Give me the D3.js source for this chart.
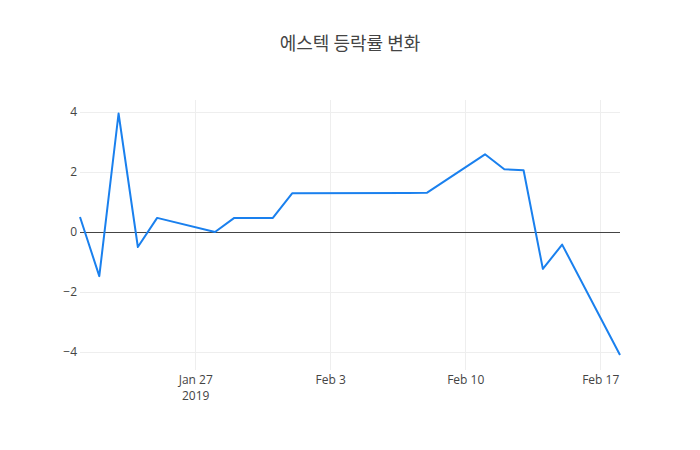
<!DOCTYPE html>
<html>
<head>
<meta charset="utf-8">
<script src="https://cdn.jsdelivr.net/npm/d3@7"></script>
<style>
  body { margin: 0; background: #fff; }
  text { font-family: "Open Sans", "Noto Sans CJK KR", sans-serif; }
</style>
</head>
<body>
<div id="chart"></div>
<script>
// trading days and daily change (%)
var dates = ["2019-01-21", "2019-01-22", "2019-01-23", "2019-01-24", "2019-01-25",
             "2019-01-28", "2019-01-29", "2019-01-30", "2019-01-31", "2019-02-01",
             "2019-02-07", "2019-02-08", "2019-02-11", "2019-02-12", "2019-02-13",
             "2019-02-14", "2019-02-15", "2019-02-18"];
var changes = [0.5, -1.47, 3.95, -0.5, 0.47,
               0.0, 0.47, 0.47, 0.47, 1.29,
               1.30, 1.31, 2.59, 2.09, 2.06,
               -1.23, -0.42, -4.1];
var y_ticks = [-4, -2, 0, 2, 4];
var x_ticks = ["2019-01-27", "2019-02-03", "2019-02-10", "2019-02-17"];
var year_label = "2019";
var title_text = "에스텍 등락률 변화";

var width = 700, height = 450;
var margin = { top: 100, right: 80, bottom: 80, left: 80 };

var parse = d3.timeParse("%Y-%m-%d");
var data = dates.map(function (d, i) { return { date: parse(d), value: changes[i] }; });

var svg = d3.select("#chart").append("svg")
  .attr("width", width)
  .attr("height", height);

var x = d3.scaleTime()
  .domain(d3.extent(data, function (d) { return d.date; }))
  .range([margin.left, width - margin.right]);

var y = d3.scaleLinear()
  .domain([-4.6, 4.4])
  .range([height - margin.bottom, margin.top]);

// grid
var grid = svg.append("g").attr("shape-rendering", "crispEdges");
grid.selectAll("line.h").data(y_ticks).enter().append("line")
  .attr("x1", margin.left).attr("x2", width - margin.right)
  .attr("y1", function (d) { return y(d); }).attr("y2", function (d) { return y(d); })
  .attr("stroke", "#eee").attr("stroke-width", 1);
grid.selectAll("line.v").data(x_ticks).enter().append("line")
  .attr("x1", function (d) { return x(parse(d)); }).attr("x2", function (d) { return x(parse(d)); })
  .attr("y1", margin.top).attr("y2", height - margin.bottom)
  .attr("stroke", "#eee").attr("stroke-width", 1);

// zero line
svg.append("line")
  .attr("shape-rendering", "crispEdges")
  .attr("x1", margin.left).attr("x2", width - margin.right)
  .attr("y1", y(0)).attr("y2", y(0))
  .attr("stroke", "#444").attr("stroke-width", 1);

// y labels
svg.append("g").selectAll("text").data(y_ticks).enter().append("text")
  .attr("x", margin.left - 3)
  .attr("y", function (d) { return y(d); })
  .attr("dy", "0.35em")
  .attr("text-anchor", "end")
  .attr("font-size", 12)
  .attr("fill", "#444")
  .text(function (d) { return d < 0 ? "\u2212" + Math.abs(d) : d; });

// x labels
var fmt = d3.timeFormat("%b %-d");
svg.append("g").selectAll("text").data(x_ticks).enter().append("text")
  .attr("x", function (d) { return x(parse(d)); })
  .attr("y", height - margin.bottom + 14)
  .attr("text-anchor", "middle")
  .attr("font-size", 12)
  .attr("fill", "#444")
  .text(function (d) { return fmt(parse(d)); });

svg.append("text")
  .attr("x", x(parse(x_ticks[0])))
  .attr("y", height - margin.bottom + 30)
  .attr("text-anchor", "middle")
  .attr("font-size", 12)
  .attr("fill", "#444")
  .text(year_label);

// line
var line = d3.line()
  .x(function (d) { return x(d.date); })
  .y(function (d) { return y(d.value); });

svg.append("path")
  .datum(data)
  .attr("d", line)
  .attr("fill", "none")
  .attr("stroke", "#1a80ee")
  .attr("stroke-width", 2)
  .attr("stroke-linejoin", "round");

// title
svg.append("text")
  .attr("x", width / 2)
  .attr("y", 50)
  .attr("text-anchor", "middle")
  .attr("font-size", 18)
  .attr("fill", "#444")
  .style("font-family", "'Noto Sans CJK KR', sans-serif")
  .text(title_text);
</script>
</body>
</html>
